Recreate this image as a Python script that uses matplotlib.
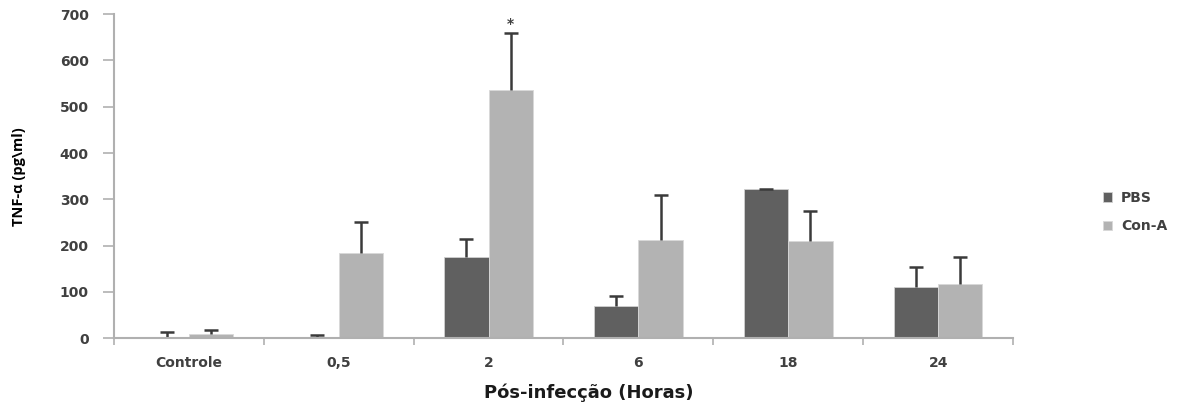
import numpy as np
import matplotlib.pyplot as plt

# dados
categorias = ['Controle', '0,5', '2', '6', '18', '24']
pbs = [3, 1, 176, 69, 322, 111]
pbs_err = [10, 5, 38, 22, 1, 42]
cona = [9, 183, 536, 213, 211, 116]
cona_err = [9, 67, 123, 97, 63, 60]

cor_pbs = '#606060'
cor_cona = '#b3b3b3'
cinza_txt = '#404040'

plt.rcParams['font.family'] = ['DejaVu Sans']

fig = plt.figure(figsize=(11.85, 4.05), dpi=100)
ax = fig.add_axes([0.096, 0.165, 0.759, 0.8])

x = np.arange(len(categorias))
w = 0.295
b1 = ax.bar(x - w / 2, pbs, w, color=cor_pbs, edgecolor='#d0d0d0', linewidth=0.6,
            yerr=[np.zeros(len(pbs)), pbs_err], ecolor='#3a3a3a',
            error_kw=dict(elinewidth=1.8, capsize=5, capthick=1.8), label='PBS')
b2 = ax.bar(x + w / 2, cona, w, color=cor_cona, edgecolor='#d8d8d8', linewidth=0.6,
            yerr=[np.zeros(len(cona)), cona_err], ecolor='#3a3a3a',
            error_kw=dict(elinewidth=1.8, capsize=5, capthick=1.8), label='Con-A')
# só a metade de cima das barras de erro
for b in (b1, b2):
    caps = b.errorbar.lines[1]
    caps[0].set_visible(False)

# asterisco no 2h Con-A
ax.text(x[2] + w / 2, cona[2] + cona_err[2] + 5, '*', ha='center', va='bottom',
        fontsize=10, fontweight='bold', color=cinza_txt)

ax.set_xlim(-0.5, len(categorias) - 0.5)
ax.set_ylim(0, 700)
ax.set_yticks(range(0, 701, 100))
ax.set_xticks(x)
ax.set_xticklabels(categorias)
ax.set_xticks(np.arange(-0.5, len(categorias)), minor=True)
ax.tick_params(axis='x', which='major', length=0, pad=13, labelsize=10, labelcolor=cinza_txt)
ax.tick_params(axis='x', which='minor', length=5, width=1.2, color='#b0b0b0', direction='out')
ax.tick_params(axis='y', length=8, width=1.2, color='#b0b0b0', labelsize=10, labelcolor=cinza_txt, pad=10)
for lab in ax.get_xticklabels() + ax.get_yticklabels():
    lab.set_fontweight('bold')

for s in ['top', 'right']:
    ax.spines[s].set_visible(False)
for s in ['left', 'bottom']:
    ax.spines[s].set_color('#b0b0b0')
    ax.spines[s].set_linewidth(1.5)

ax.set_ylabel('TNF-α (pg\\ml)', family=['Open Sans', 'DejaVu Sans'], fontsize=10.5,
              fontweight='bold', color='black', labelpad=24)
ax.set_xlabel('Pós-infecção (Horas)', fontsize=13, fontweight='bold', color='#1a1a1a')
ax.xaxis.set_label_coords(0.528, -0.14)

leg = fig.legend(loc='upper left', bbox_to_anchor=(0.92, 0.56), frameon=False,
                 handlelength=0.7, handleheight=0.7, handletextpad=0.6, labelspacing=1.05,
                 prop=dict(size=10, weight='bold'))
for t in leg.get_texts():
    t.set_color(cinza_txt)

fig.savefig('out.png', dpi=100)
